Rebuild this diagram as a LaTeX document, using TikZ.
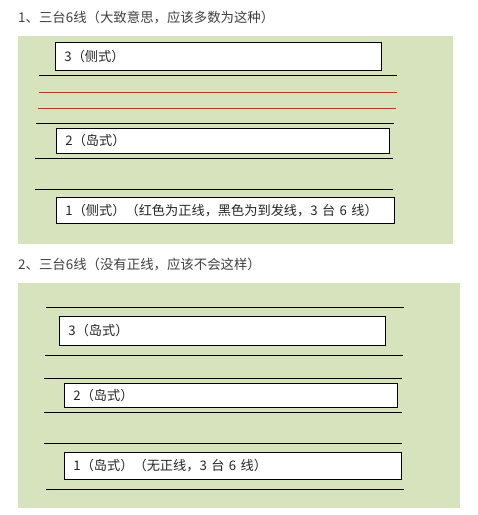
\documentclass[tikz,border=0pt]{standalone}
\usepackage{fontspec}
\setmainfont{Noto Sans CJK SC}
\usepackage{xcolor}
\usepackage{tikz}
\definecolor{panelgreen}{RGB}{215,227,188}
\definecolor{zhengxian}{RGB}{192,52,32}
\definecolor{titlegray}{RGB}{64,64,64}

\begin{document}
\begin{tikzpicture}[x=1pt,y=-1pt,
  platform/.style={draw,fill=white,line width=.9pt,anchor=north west,
    inner xsep=9pt,inner ysep=0pt,align=left,text=black!85,
    font=\fontsize{13.2}{15}\selectfont},
  track/.style={line width=.9pt},
  title/.style={anchor=west,inner sep=0pt,text=titlegray,
    font=\fontsize{13.4}{15}\selectfont}]
\useasboundingbox[fill=white] (0,0) rectangle (478,515);
% 1
\node[title] (t1) at (18,17) {1、三台6线（大致意思，应该多数为这种）};
\fill[panelgreen] (18,36) rectangle (453,244);
\node[platform,minimum height=28pt,text width=308pt] (a3) at (55,42) {3（侧式）};
\node[platform,minimum height=25pt,text width=315pt] (a2) at (56,128) {2（岛式）};
\node[platform,minimum height=26pt,text width=320pt] (a1) at (56,197)
  {1（侧式）（红色为正线，黑色为到发线，3 台 6 线）};
\foreach \y/\a/\b in {75/39/397,123/36/394,158.5/35/393,189/35/393}
  \draw[track] (\a,\y) -- (\b,\y);
\foreach \y/\a/\b in {92/39/397,108/38/396}
  \draw[track,zhengxian] (\a,\y) -- (\b,\y);
% 2
\node[title] (t2) at (18,264) {2、三台6线（没有正线，应该不会这样）};
\fill[panelgreen] (18,283) rectangle (460,508);
\node[platform,minimum height=29pt,text width=308pt] (b3) at (59,316) {3（岛式）};
\node[platform,minimum height=24pt,text width=315pt] (b2) at (64,383) {2（岛式）};
\node[platform,minimum height=27pt,text width=319pt] (b1) at (64,452)
  {1（岛式）（无正线，3 台 6 线）};
\foreach \y/\a/\b in {307/46/404,355/45/403,378/44/402,412/44/402,443/44/402,489/46/404}
  \draw[track] (\a,\y) -- (\b,\y);
\end{tikzpicture}
\end{document}
